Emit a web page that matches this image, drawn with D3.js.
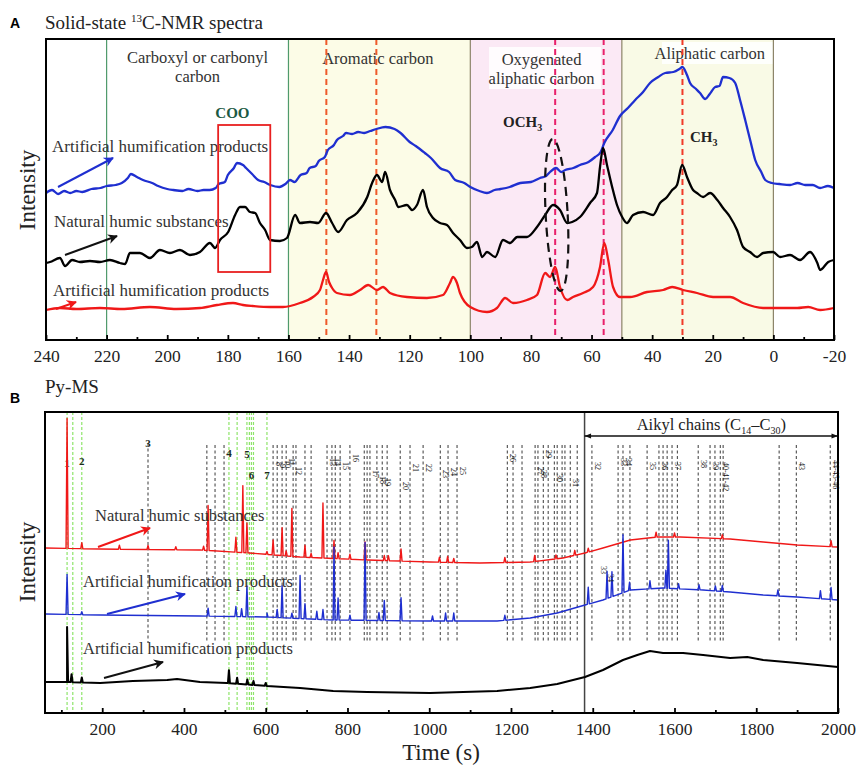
<!DOCTYPE html>
<html>
<head>
<meta charset="utf-8">
<script src="https://cdn.jsdelivr.net/npm/d3@7"></script>
<style>
  body { margin: 0; background: #fff; }
  svg { display: block; font-family: "Liberation Serif", "Times New Roman", serif; }
</style>
</head>
<body>
<svg id="chart" width="857" height="766"></svg>
<script>
// ---------- A: solid-state 13C-NMR (ppm, intensity a.u.) ----------
const nmrTicks = d3.range(240, -21, -20);
const nmrMinorTicks = d3.range(230, -20, -20);
const nmrRegionBounds = [220, 160, 100, 50, 0];
const nmrRegionNames = [["Carboxyl or carbonyl", "carbon"], ["Aromatic carbon"], ["Oxygenated", "aliphatic carbon"], ["Aliphatic carbon"]];
const nmrPeakLines = [147.5, 131, 72, 56, 30];
const cooBox = { from: 183.2, to: 166, top: 215, bottom: 68 };

const nmrArtificialBlue = [[240,147],[238,150],[236,146],[234,149],[232,147],[230,149],[228,148],[225,151],[222,152],[220,154],[217,155],[215,157],[213,162],[212,166],[210,163],[208,160],[205,157],[203,154],[200,151],[198,150],[195,149],[193,151],[190,149],[188,150],[186,150],[184,152],[183,156],[181,158],[180,165],[178,172],[177,177],[175,175],[174,172],[172,166],[170,160],[168,158],[166,155],[163,153],[161,156],[159.5,160],[158,158],[156,165],[154,167],[153,172],[151,174],[150,179],[148,183],[147,190],[145,195],[144,200],[142,204],[141,207],[139,206],[137,208],[135,207],[133,209],[131,211],[128,213],[125,211],[123,207],[120,198],[118,194],[115,187],[113,182],[110,172],[107,168],[105,160],[102,157],[100,153],[97,149],[94.5,147],[92,150],[90,151],[87,153],[83.5,157],[80,158],[77,162],[75,164],[73.7,168],[71.7,172],[70,168],[68.7,170],[66,172],[63.8,175],[61,178],[58.8,183],[57,188],[55.8,197],[53,210],[50.6,224],[48,232],[45.6,240],[43,248],[40.7,257],[38,263],[35.7,267],[33,268],[31,271],[30,273],[28.5,265],[27.5,257],[25.5,251],[24.2,247],[22.5,241],[21,246],[19.2,253],[17.8,254],[16.6,263],[14.5,262],[12.6,257],[11,240],[9.3,220],[7.5,198],[6,180],[4,168],[2.7,160],[0.5,157],[-2,156],[-5.5,155],[-8,157],[-10.5,155],[-13,155],[-15.4,152],[-18,154],[-20,152]];

const nmrNaturalBlack = [[240,77],[238.7,78],[235.4,82],[233.7,74],[231.4,80],[228.8,78],[225.5,79],[222.2,78],[218.9,80],[215.6,77],[213.9,76],[212.3,87],[209,87],[205.7,82],[202.4,90],[199.1,87],[195.8,90],[192.5,85],[189.2,88],[185.9,97],[184.2,92],[182.6,100],[179.9,108],[177.6,125],[176,133],[174.3,133],[172.7,128],[171,127],[169.4,117],[167.7,110],[166.1,100],[162.8,99],[160.5,102],[157.8,125],[156.2,117],[152.9,118],[150.2,117],[147.6,127],[145.6,117],[143.6,108],[140.7,120],[137.4,127],[134,143],[132.4,157],[130.8,165],[129.1,158],[128.1,168],[126.5,150],[124.8,140],[123.8,133],[120.9,135],[119.2,130],[117.6,135],[115.6,150],[114.3,133],[112.3,122],[110,117],[107.7,115],[105.7,107],[103.4,100],[101.1,92],[99.5,93],[97.8,98],[96.1,83],[94.5,88],[91.8,83],[89.2,100],[86.9,97],[84.5,103],[81.3,103],[78,113],[75.3,125],[72.7,135],[70.4,130],[68,117],[66.4,118],[63.8,123],[60.5,137],[58.2,147],[57.2,173],[56.2,192],[54.9,175],[53.2,153],[51.6,135],[49.9,123],[48.3,117],[46.3,125],[43,128],[39.7,125],[37.4,137],[35.1,143],[33.4,150],[31.8,155],[30.1,175],[28.5,163],[26.5,150],[25.2,147],[23.2,143],[20.9,147],[18.5,140],[16.6,132],[14.3,123],[12,110],[10,93],[7.7,88],[5.4,83],[3.4,87],[0.1,88],[-2.2,83],[-5.5,85],[-8.8,80],[-12.1,88],[-14.5,77],[-15.4,70],[-18.1,78],[-20,80]];

const nmrArtificialRed = [[240,30],[235.4,32],[230,31],[222.2,32],[215,31],[205.7,33],[197,31],[189.2,32],[183.6,35],[178.3,37],[175,35],[171.7,34],[166,33],[161.8,33],[156.2,37],[151.9,43],[149.6,50],[148.6,60],[147.6,68],[146.6,58],[145.6,52],[144,47],[139.7,45],[136.4,50],[133.7,55],[130.8,50],[128.8,53],[126.5,47],[120.9,43],[114.3,42],[109,45],[106.7,57],[105.7,63],[104.4,57],[103.4,47],[100,33],[94.5,28],[91.2,32],[88.5,42],[85.9,37],[81.3,40],[78,45],[75.3,67],[73.7,63],[72,73],[70.4,53],[68,40],[66.1,43],[62.8,47],[59.5,53],[57.2,73],[55.8,97],[54.5,80],[52.9,53],[50.6,43],[47.3,43],[41.7,48],[36.4,50],[33.4,53],[29.8,50],[25.2,47],[19.9,43],[14.3,43],[10,37],[3.4,32],[0.1,32],[-7.9,32],[-11.5,33],[-15.4,30],[-20,32]];

// ---------- B: Py-MS (time s, intensity a.u.) ----------
const pyTicks = d3.range(200, 2001, 200);
const pyMinorTicks = d3.range(100, 2000, 200);
const alkylStart = 1380;
const greenLines = [114, 128, 150, 510, 530, 554, 560, 565, 570, 603];
const blackLines = [312, 456, 476, 498, 618, 628, 640, 650, 667, 674, 696, 711, 750, 762, 770, 782, 806, 841, 848, 855, 872, 885, 897, 929, 953, 985, 1027, 1046, 1068, 1191, 1205, 1227, 1259, 1266, 1279, 1291, 1306, 1313, 1325, 1332, 1345, 1362, 1398, 1462, 1474, 1491, 1533, 1562, 1572, 1582, 1594, 1607, 1658, 1687, 1699, 1712, 1719, 1856, 1898, 1981];
const mainLabels = [[114, "1"], [150, "2"], [312, "3"], [510, "4"], [554, "5"], [565, "6"], [603, "7"]];
const compoundLabels = [[618,"8"],[628,"9"],[640,"10"],[650,"11"],[667,"12"],[750,"13"],[762,"14"],[782,"15"],[806,"16"],[855,"17"],[872,"18"],[885,"19"],[929,"20"],[953,"21"],[985,"22"],[1027,"23"],[1046,"24"],[1068,"25"],[1191,"26"],[1259,"27"],[1266,"28"],[1279,"29"],[1306,"30"],[1345,"31"],[1398,"32"],[1462,"33"],[1474,"34"],[1533,"35"],[1562,"36"],[1594,"37"],[1658,"38"],[1687,"39"],[1712,"40-41-42"],[1898,"43"],[1981,"44-45-46"]];

const natBase = [[60,165],[195,164],[439,163],[560,160],[684,156],[850,153],[1002,151],[1124,150],[1247,151],[1327,155],[1381,160],[1425,165],[1492,173],[1558,176],[1614,176],[1736,174],[1817,171],[1900,168],[2000,166]];
const natPeaks = [[114,130],[150,6],[242,4],[312,4],[380,3],[459,45],[448,4],[527,15],[544,67],[554,30],[603,3],[618,15],[640,28],[650,5],[664,48],[696,12],[711,4],[740,55],[767,18],[777,6],[806,5],[843,18],[890,5],[900,5],[931,12],[1025,5],[1045,6],[1060,4],[1185,5],[1258,6],[1310,4],[1356,5],[1389,4],[1555,5],[1600,4],[1717,4],[1983,6]];

const artBase = [[60,99],[195,98],[439,97],[603,96],[765,93],[1002,92],[1166,92],[1247,95],[1313,100],[1381,108],[1425,113],[1492,123],[1572,125],[1670,123],[1736,121],[1817,118],[1900,116],[2000,113]];
const artPeaks = [[114,40],[150,3],[459,8],[527,10],[541,8],[554,31],[603,4],[628,8],[640,32],[664,5],[684,43],[696,15],[725,8],[740,10],[767,73],[777,22],[806,5],[843,78],[877,8],[890,20],[931,23],[1008,5],[1040,8],[1060,8],[1185,5],[1389,17],[1435,27],[1447,25],[1474,58],[1490,8],[1540,8],[1579,18],[1585,48],[1610,5],[1660,5],[1700,5],[1717,6],[1853,6],[1957,8],[1983,12]];

const art2Base = [[60,31],[114,31],[195,30],[275,32],[359,33],[383,34],[439,31],[505,30],[603,27],[684,25],[765,22],[848,21],[1002,20],[1083,21],[1166,22],[1247,25],[1313,29],[1381,36],[1425,43],[1474,53],[1509,58],[1540,62],[1572,60],[1621,60],[1670,58],[1736,55],[1778,56],[1817,53],[1900,50],[2000,46]];
const art2Peaks = [[114,55],[125,8],[150,5],[510,13],[530,6],[555,5],[570,4],[600,3]];

// ---------- drawing ----------
const svg = d3.select("#chart");

const defs = svg.append("defs");
[["arrBlue", "#1f2fd0"], ["arrBlack", "#111"], ["arrRed", "#f01818"]].forEach(([id, c]) => {
  defs.append("marker")
    .attr("id", id)
    .attr("viewBox", "0 0 10 10")
    .attr("refX", 9).attr("refY", 5)
    .attr("markerWidth", 5).attr("markerHeight", 5)
    .attr("orient", "auto")
    .append("path")
    .attr("d", "M0,0 L10,5 L0,10 L3,5 Z")
    .attr("fill", c);
});

function arrow(g, x1, y1, x2, y2, color, id, w) {
  g.append("line")
    .attr("x1", x1).attr("y1", y1).attr("x2", x2).attr("y2", y2)
    .attr("stroke", color).attr("stroke-width", w || 2)
    .attr("marker-end", `url(#${id})`);
}

// ===== Panel A =====
const xA = d3.scaleLinear().domain([240, -20]).range([46, 834]);
const yA = d3.scaleLinear().domain([0, 301]).range([340, 39]);
const gA = svg.append("g");

// region fills
const fills = [null, "#fcfce7", "#fbe9f5", "#f9fae6"];
nmrRegionBounds.slice(0, -1).forEach((b, i) => {
  if (!fills[i]) return;
  gA.append("rect")
    .attr("x", xA(b)).attr("y", yA(301))
    .attr("width", xA(nmrRegionBounds[i + 1]) - xA(b))
    .attr("height", yA(0) - yA(301))
    .attr("fill", fills[i]);
});

// white label backings
gA.append("rect").attr("x", 489).attr("y", 47).attr("width", 112).attr("height", 42).attr("fill", "#fff").attr("opacity", 0.85);
gA.append("rect").attr("x", 662).attr("y", 42).attr("width", 118).attr("height", 22).attr("fill", "#fff").attr("opacity", 0.85);

// region boundary lines
nmrRegionBounds.forEach((b, i) => {
  gA.append("line")
    .attr("x1", xA(b)).attr("x2", xA(b))
    .attr("y1", yA(301)).attr("y2", yA(0))
    .attr("stroke", i < 2 ? "#4f9a6c" : "#8c8468")
    .attr("stroke-width", 1.2);
});

// region names
const nameCenters = [190, 130.5, 76.5, 21];
const nameTops = [63, 64, 65, 59];
nmrRegionNames.forEach((lines, i) => {
  lines.forEach((t, j) => {
    gA.append("text")
      .attr("x", xA(nameCenters[i]))
      .attr("y", nameTops[i] + j * 19)
      .attr("text-anchor", "middle")
      .attr("font-size", 16.5)
      .attr("fill", "#333")
      .text(t);
  });
});

// peak guide lines
const peakColors = ["#ee5a2a", "#ee5a2a", "#e8206a", "#e8206a", "#f03a28"];
nmrPeakLines.forEach((p, i) => {
  gA.append("line")
    .attr("x1", xA(p)).attr("x2", xA(p))
    .attr("y1", yA(301)).attr("y2", yA(0))
    .attr("stroke", peakColors[i])
    .attr("stroke-width", 2)
    .attr("stroke-dasharray", "6,4");
});

// trace labels (under the lines)
const traceLabelStyle = (t) => t.attr("font-size", 17).attr("fill", "#333");
traceLabelStyle(gA.append("text").attr("x", 52).attr("y", 152).text("Artificial humification products"));
traceLabelStyle(gA.append("text").attr("x", 54).attr("y", 227).text("Natural humic substances"));
traceLabelStyle(gA.append("text").attr("x", 53).attr("y", 296).text("Artificial humification products"));

// spectra
const lineA = d3.line().x(d => xA(d[0])).y(d => yA(d[1])).curve(d3.curveMonotoneX);
[[nmrArtificialBlue, "#1f2fd0"], [nmrNaturalBlack, "#000"], [nmrArtificialRed, "#f01818"]].forEach(([data, c]) => {
  gA.append("path")
    .datum(data)
    .attr("d", lineA)
    .attr("fill", "none")
    .attr("stroke", c)
    .attr("stroke-width", 2.3)
    .attr("stroke-linejoin", "round");
});

// COO box
gA.append("rect")
  .attr("x", xA(cooBox.from)).attr("y", yA(cooBox.top))
  .attr("width", xA(cooBox.to) - xA(cooBox.from))
  .attr("height", yA(cooBox.bottom) - yA(cooBox.top))
  .attr("fill", "none").attr("stroke", "#e82020").attr("stroke-width", 1.8);

// OCH3 ellipse
gA.append("ellipse")
  .attr("cx", xA(71.5)).attr("cy", yA(125))
  .attr("rx", 11).attr("ry", 76)
  .attr("transform", `rotate(-3, ${xA(71.5)}, ${yA(125)})`)
  .attr("fill", "none").attr("stroke", "#111")
  .attr("stroke-width", 2.2).attr("stroke-dasharray", "9,6");

// bold annotations
gA.append("text").attr("x", xA(178.5)).attr("y", 118).attr("text-anchor", "middle")
  .attr("font-size", 15).attr("font-weight", "bold").attr("fill", "#1b5a44").text("COO");
const och = gA.append("text").attr("x", 503).attr("y", 127).attr("font-size", 15).attr("font-weight", "bold").attr("fill", "#222");
och.append("tspan").text("OCH");
och.append("tspan").attr("font-size", 10).attr("dy", 4).text("3");
const ch = gA.append("text").attr("x", 690).attr("y", 142).attr("font-size", 15).attr("font-weight", "bold").attr("fill", "#222");
ch.append("tspan").text("CH");
ch.append("tspan").attr("font-size", 10).attr("dy", 4).text("3");

// arrows
arrow(gA, 58, 187, 113, 158, "#1f2fd0", "arrBlue");
arrow(gA, 65, 255, 117, 236, "#111", "arrBlack");
arrow(gA, 56, 309, 76, 302, "#f01818", "arrRed");

// frame + axis
gA.append("rect").attr("x", 46).attr("y", 39).attr("width", 788).attr("height", 301)
  .attr("fill", "none").attr("stroke", "#000").attr("stroke-width", 2);
const axA = gA.append("g").attr("transform", "translate(0,340)")
  .call(d3.axisBottom(xA).tickValues(nmrTicks).tickSizeInner(-5).tickSizeOuter(0).tickPadding(10).tickFormat(d3.format("d")));
gA.append("g").attr("transform", "translate(0,340)")
  .call(d3.axisBottom(xA).tickValues(nmrMinorTicks).tickSizeInner(-3).tickSizeOuter(0).tickFormat(""))
  .select(".domain").remove();
axA.select(".domain").remove();
svg.selectAll(".tick line").attr("stroke", "#000").attr("stroke-width", 1.8);
axA.selectAll("text").attr("font-size", 17.5).attr("font-family", "Liberation Serif").attr("fill", "#222")
  .text(d => d < 0 ? "-" + Math.abs(d) : d);

// titles
svg.append("text").attr("x", 10).attr("y", 28).attr("font-family", "Liberation Sans, Arial").attr("font-weight", "bold").attr("font-size", 14).text("A");
const tA = svg.append("text").attr("x", 45).attr("y", 29).attr("font-size", 19).attr("fill", "#222");
tA.append("tspan").text("Solid-state ");
tA.append("tspan").attr("font-size", 11).attr("dy", -7).text("13");
tA.append("tspan").attr("dy", 7).text("C-NMR spectra");
svg.append("text").attr("transform", "translate(35,190) rotate(-90)").attr("text-anchor", "middle")
  .attr("font-size", 23).attr("fill", "#222").text("Intensity");

// ===== Panel B =====
const xB = d3.scaleLinear().domain([60, 2000]).range([45, 838]);
const yB = d3.scaleLinear().domain([0, 301]).range([713, 412]);
const gB = svg.append("g");

// dashed guides
greenLines.forEach(t => {
  gB.append("line").attr("x1", xB(t)).attr("x2", xB(t)).attr("y1", yB(301)).attr("y2", yB(0))
    .attr("stroke", "#8ee46a").attr("stroke-width", 1.2).attr("stroke-dasharray", "3,2");
});
blackLines.forEach(t => {
  gB.append("line").attr("x1", xB(t)).attr("x2", xB(t)).attr("y1", yB(t === 312 ? 270 : 268)).attr("y2", yB(70))
    .attr("stroke", "#3a3a3a").attr("stroke-width", 1).attr("stroke-dasharray", "3,2.5");
});

// alkyl boundary
gB.append("line").attr("x1", xB(alkylStart)).attr("x2", xB(alkylStart)).attr("y1", yB(301)).attr("y2", yB(0))
  .attr("stroke", "#444").attr("stroke-width", 1.5);
defs.append("marker").attr("id", "dbl").attr("viewBox", "0 0 10 10").attr("refX", 10).attr("refY", 5)
  .attr("markerWidth", 7).attr("markerHeight", 5).attr("orient", "auto-start-reverse")
  .append("path").attr("d", "M0,1 L10,5 L0,9 Z").attr("fill", "#111");
gB.append("line").attr("x1", xB(alkylStart)).attr("x2", xB(2000)).attr("y1", 436).attr("y2", 436)
  .attr("stroke", "#111").attr("stroke-width", 1.3)
  .attr("marker-start", "url(#dbl)").attr("marker-end", "url(#dbl)");
const ak = gB.append("text").attr("x", (xB(alkylStart) + xB(2000)) / 2).attr("y", 430)
  .attr("text-anchor", "middle").attr("font-size", 16.5).attr("fill", "#222");
ak.append("tspan").text("Aikyl chains (C");
ak.append("tspan").attr("font-size", 10).attr("dy", 4).text("14");
ak.append("tspan").attr("dy", -4).text("\u2013C");
ak.append("tspan").attr("font-size", 10).attr("dy", 4).text("30");
ak.append("tspan").attr("dy", -4).text(")");

// peak numbers
const mainY = [467, 465, 447, 457, 458, 479, 479];
mainLabels.forEach(([t, s], i) => {
  gB.append("text").attr("x", xB(t)).attr("y", mainY[i]).attr("text-anchor", "middle")
    .attr("font-size", 11).attr("font-weight", "bold").attr("fill", "#1e2b1e").text(s);
});
const compY = [470, 472, 468, 466, 475, 466, 466, 470, 462, 478, 484, 486, 490, 472, 472, 478, 476, 475, 462, 475, 478, 458, 482, 487, 470, 466, 466, 470, 470, 470, 468, 470, 470, 470, 468];
compoundLabels.forEach(([t, s], i) => {
  gB.append("text").attr("transform", `translate(${xB(t) + 3},${compY[i] - 8}) rotate(90)`)
    .attr("font-size", 8).attr("fill", "#111").text(s);
});

// chromatograms
function withPeaks(base, peaks) {
  const b = d3.scaleLinear().domain(base.map(d => d[0])).range(base.map(d => d[1]));
  const pts = base.map(d => [d[0], d[1]]);
  peaks.forEach(([t, h]) => {
    pts.push([t - 2.5, b(t - 2.5)], [t, b(t) + h], [t + 2.5, b(t + 2.5)]);
  });
  return pts.sort((a, c) => a[0] - c[0]);
}
const lineB = d3.line().x(d => xB(d[0])).y(d => yB(d[1]));
[[natBase, natPeaks, "#f01818", 1.4], [artBase, artPeaks, "#1f2fd0", 1.4], [art2Base, art2Peaks, "#000", 2]].forEach(([b, p, c, w]) => {
  gB.append("path").datum(withPeaks(b, p)).attr("d", lineB)
    .attr("fill", "none").attr("stroke", c).attr("stroke-width", w).attr("stroke-linejoin", "round");
});

// blue small labels
gB.append("text").attr("transform", `translate(${xB(1435) - 6},566) rotate(90)`).attr("font-size", 8).attr("fill", "#222").text("33");
gB.append("text").attr("transform", `translate(${xB(1447) - 4},574) rotate(90)`).attr("font-size", 8).attr("fill", "#222").text("34");

// trace labels + arrows
gB.append("text").attr("x", 95).attr("y", 521).attr("font-size", 16.5).attr("fill", "#333").text("Natural humic substances");
gB.append("text").attr("x", 83).attr("y", 587).attr("font-size", 16.5).attr("fill", "#333").text("Artificial humification products");
gB.append("text").attr("x", 83).attr("y", 654).attr("font-size", 16.5).attr("fill", "#333").text("Artificial humification products");
arrow(gB, 98, 547, 150, 528, "#f01818", "arrRed");
arrow(gB, 107, 614, 185, 594, "#1f2fd0", "arrBlue");
arrow(gB, 104, 678, 163, 662, "#111", "arrBlack");

// frame + axis
gB.append("rect").attr("x", 45).attr("y", 412).attr("width", 793).attr("height", 301)
  .attr("fill", "none").attr("stroke", "#000").attr("stroke-width", 2);
const axB = gB.append("g").attr("transform", "translate(0,713)")
  .call(d3.axisBottom(xB).tickValues(pyTicks).tickSizeInner(-5).tickSizeOuter(0).tickPadding(10).tickFormat(d3.format("d")));
axB.select(".domain").remove();
gB.append("g").attr("transform", "translate(0,713)")
  .call(d3.axisBottom(xB).tickValues(pyMinorTicks).tickSizeInner(-3).tickSizeOuter(0).tickFormat(""))
  .select(".domain").remove();
gB.selectAll(".tick line").attr("stroke", "#000").attr("stroke-width", 1.8);
axB.selectAll("text").attr("font-size", 17.5).attr("font-family", "Liberation Serif").attr("fill", "#222");

svg.append("text").attr("x", 10).attr("y", 403).attr("font-family", "Liberation Sans, Arial").attr("font-weight", "bold").attr("font-size", 14).text("B");
svg.append("text").attr("x", 45).attr("y", 393).attr("font-size", 19).attr("fill", "#222").text("Py-MS");
svg.append("text").attr("transform", "translate(35,562) rotate(-90)").attr("text-anchor", "middle")
  .attr("font-size", 23).attr("fill", "#222").text("Intensity");
svg.append("text").attr("x", 441).attr("y", 760).attr("text-anchor", "middle")
  .attr("font-size", 23).attr("fill", "#222").text("Time (s)");
</script>
</body>
</html>
